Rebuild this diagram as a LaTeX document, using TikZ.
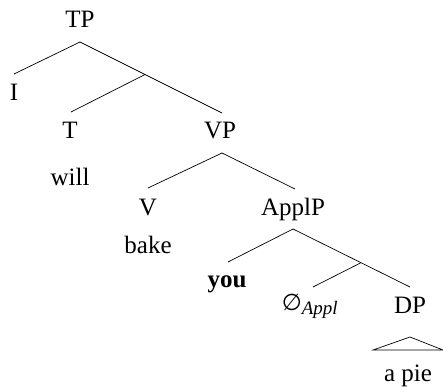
\documentclass[tikz,border=0pt]{standalone}
\usepackage{fontspec}
\setmainfont{Liberation Serif}
\newfontfamily\symfont{DejaVu Sans}
\begin{document}
\begin{tikzpicture}[x=1pt,y=-1pt,
  lab/.style={anchor=base,inner sep=0pt,font=\fontsize{25}{30}\selectfont},
  br/.style={line width=0.7pt}]
\useasboundingbox (0,0) rectangle (443,387);
% labels
\node[lab] (TP) at (80,28) {TP};
\node[lab] (I) at (14,101) {I};
\node[lab] (T) at (70,139) {T};
\node[lab] (will) at (70,185) {will};
\node[lab] (VP) at (220,139) {VP};
\node[lab] (V) at (148,215) {V};
\node[lab] (bake) at (148,253) {bake};
\node[lab] (ApplP) at (293,215) {ApplP};
\node[lab] (you) at (227,287) {\bfseries you};
\node[lab] (Appl) at (310,310) {{\symfont\fontsize{23}{27}\selectfont ∅}\textsubscript{\fontsize{19}{22}\selectfont\itshape Appl}};
\node[lab] (DP) at (410,313) {DP};
\node[lab] (apie) at (408,381) {a pie};
% branch points
\coordinate (TPa) at (80,42);
\coordinate (Ia) at (14,74);
\coordinate (Tbar) at (145,74.5);
\coordinate (Ta) at (71,112);
\coordinate (VPt) at (222,113);
\coordinate (VPa) at (222,153);
\coordinate (Va) at (148,188);
\coordinate (ApplPt) at (295,189);
\coordinate (ApplPa) at (293,229);
\coordinate (youa) at (228,262);
\coordinate (Applbar) at (361,262.7);
\coordinate (Appla) at (313,287);
\coordinate (DPt) at (410,287);
\coordinate (tri) at (410,337);
\coordinate (triL) at (373,350);
\coordinate (triR) at (443,350);
% connectors
\draw[br] (TPa) -- (Ia);
\draw[br] (TPa) -- (VPt);
\draw[br] (Tbar) -- (Ta);
\draw[br] (VPa) -- (Va);
\draw[br] (VPa) -- (ApplPt);
\draw[br] (ApplPa) -- (youa);
\draw[br] (ApplPa) -- (DPt);
\draw[br] (Applbar) -- (Appla);
\draw[br] (tri) -- (triL) -- (triR) -- cycle;
\end{tikzpicture}
\end{document}
